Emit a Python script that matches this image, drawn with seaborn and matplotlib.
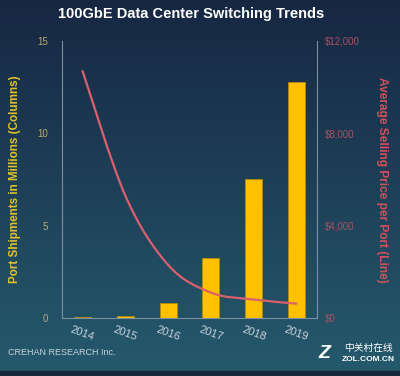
# 100GbE data center switching trends: shipments (bars) vs. average price (line)

import numpy as np
import pandas as pd
import seaborn as sns
import matplotlib.pyplot as plt
from matplotlib.path import Path
from matplotlib.patches import PathPatch, Rectangle

years = ['2014', '2015', '2016', '2017', '2018', '2019']
shipments = [0.05, 0.09, 0.83, 3.27, 7.55, 12.8]          # millions of ports
asp = [10700, 5300, 2300, 1100, 800, 620]                  # $ per port

left_ticks = [0, 5, 10, 15]
right_ticks = [0, 4000, 8000, 12000]
right_labels = ['$0', '$4,000', '$8,000', '$12,000']

df = pd.DataFrame({'Year': years, 'Shipments': shipments, 'ASP': asp})

sns.set_style('white')
plt.rcParams['font.family'] = ['Liberation Sans', 'DejaVu Sans']

fig = plt.figure(figsize=(4, 3.76), dpi=100)

# background gradient, navy at the top to teal at the bottom
bg = fig.add_axes([0, 0, 1, 1], zorder=-10)
grad = np.linspace(0, 1, 256)[:, None]
top = np.array([0x17, 0x27, 0x42]) / 255
bot = np.array([0x25, 0x5a, 0x6d]) / 255
img = top + grad[..., None] * (bot - top)
bg.imshow(img, aspect='auto', extent=[0, 1, 0, 1])
bg.add_patch(Rectangle((0, 0), 1, 0.014, color='#16283a'))
bg.axis('off')

ax = fig.add_axes([0.155, 0.1543, 0.6375, 0.7367])
ax.set_facecolor('none')
sns.barplot(data=df, x='Year', y='Shipments', color='#ffc000', width=0.4,
            edgecolor='#b08a10', linewidth=0.6, saturation=1, ax=ax)
ax.set_xlim(-0.48, 5.48)
ax.set_ylim(0, 15)
ax.set_yticks(left_ticks)
ax.set_yticklabels([str(t) for t in left_ticks], color='#b9a874', fontsize=7)
ax.tick_params(axis='both', length=0, pad=10)
ax.tick_params(axis='x', pad=5)
for lbl in ax.get_xticklabels():
    lbl.set_rotation(-20)
    lbl.set_color('#c8d2dc')
    lbl.set_fontsize(8)
    lbl.set_ha('center')
    lbl.set_va('top')
ax.set_xlabel('')
ax.set_ylabel('Port Shipments in Millions (Columns)', color='#e2c22a',
              fontsize=8.4, fontweight='bold', labelpad=12)

for s in ['left', 'right', 'bottom']:
    ax.spines[s].set_color('#7d8fa0')
    ax.spines[s].set_linewidth(0.8)
ax.spines['top'].set_visible(False)

ax2 = ax.twinx()
ax2.set_ylim(0, 12000)
ax2.set_yticks(right_ticks)
ax2.set_yticklabels(right_labels, color='#a8505f', fontsize=7)
ax2.tick_params(axis='y', length=0, pad=6)
ax2.set_ylabel('Average Selling Price per Port (Line)', color='#d4505c',
               fontsize=8.6, fontweight='bold', rotation=-90, labelpad=20)
for s in ax2.spines.values():
    s.set_visible(False)

# smooth line through the price points (Catmull-Rom as cubic Bezier)
xs = np.arange(len(asp), dtype=float)
ys = np.array(asp, dtype=float)
px = np.concatenate([[xs[0]], xs, [xs[-1]]])
py = np.concatenate([[ys[0]], ys, [ys[-1]]])
verts = [(xs[0], ys[0])]
codes = [Path.MOVETO]
for i in range(1, len(xs)):
    j = i + 1
    c1 = (px[j - 1] + (px[j] - px[j - 2]) / 6, py[j - 1] + (py[j] - py[j - 2]) / 6)
    c2 = (px[j] - (px[j + 1] - px[j - 1]) / 6, py[j] - (py[j + 1] - py[j - 1]) / 6)
    verts += [c1, c2, (px[j], py[j])]
    codes += [Path.CURVE4] * 3
ax2.add_patch(PathPatch(Path(verts, codes), facecolor='none',
                        edgecolor='#d9606e', linewidth=1.6, capstyle='round'))

fig.text(0.478, 0.963, '100GbE Data Center Switching Trends', color='white',
         fontsize=10.5, fontweight='bold', ha='center', va='center')
fig.text(0.02, 0.063, 'CREHAN RESEARCH Inc.', color='#c8d2dc', fontsize=6.5,
         ha='left', va='center')

# watermark
fig.text(0.812, 0.06, 'Z', color='white', fontsize=14, fontweight='bold',
         ha='center', va='center', fontstyle='italic')
fig.text(0.92, 0.075, '中关村在线', color='white', fontsize=7,
         ha='center', va='center', family=['Noto Sans CJK SC', 'DejaVu Sans'])
fig.text(0.92, 0.043, 'ZOL.COM.CN', color='white', fontsize=6,
         ha='center', va='center', fontweight='bold')

plt.savefig('out.png', dpi=100)
